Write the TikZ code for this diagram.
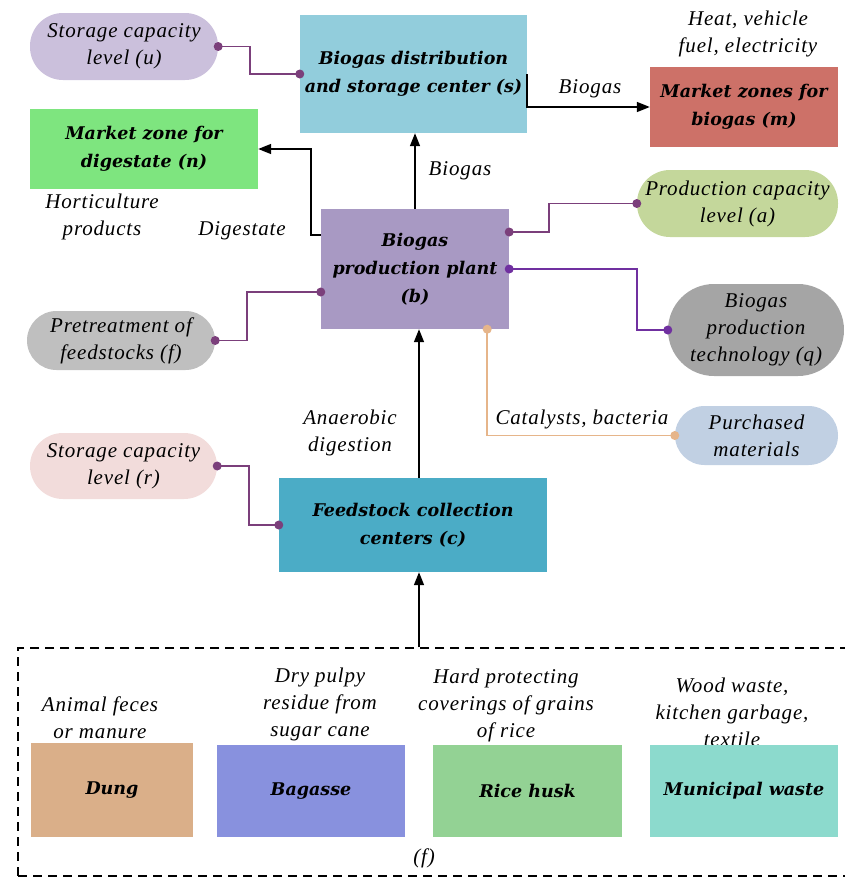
\documentclass[tikz,border=0pt]{standalone}
\usepackage{fontspec}
\setmainfont{Liberation Serif}[LetterSpace=4]
\newfontfamily\boldit{DejaVu Serif}[BoldItalicFont={DejaVu Serif Bold Italic}]
\usetikzlibrary{arrows.meta,calc}
\definecolor{cu}{RGB}{203,192,220}
\definecolor{cs}{RGB}{146,205,220}
\definecolor{cm}{RGB}{205,113,104}
\definecolor{cn}{RGB}{126,229,127}
\definecolor{cb}{RGB}{168,153,195}
\definecolor{ca}{RGB}{196,215,155}
\definecolor{cq}{RGB}{165,165,165}
\definecolor{cf}{RGB}{191,191,191}
\definecolor{cp}{RGB}{193,208,227}
\definecolor{cr}{RGB}{242,220,219}
\definecolor{cc}{RGB}{75,172,198}
\definecolor{cdung}{RGB}{218,175,137}
\definecolor{cbag}{RGB}{136,145,222}
\definecolor{crice}{RGB}{147,210,148}
\definecolor{cmun}{RGB}{140,218,205}
\definecolor{lp}{RGB}{123,63,123}
\definecolor{lq}{RGB}{112,48,160}
\definecolor{lt}{RGB}{230,181,138}
\tikzset{
  txt/.style={font=\fontsize{21}{27}\selectfont\itshape, align=center, inner sep=0pt},
  box/.style={draw=none, align=center, inner sep=0pt, font=\boldit\fontsize{17.5}{28}\selectfont\bfseries\itshape},
  pill/.style={draw=none, align=center, inner sep=0pt, rounded corners=33pt, font=\fontsize{21}{27}\selectfont\itshape},
  arr/.style={line width=1.5pt, -{Triangle[length=13pt,width=10pt]}},
  pl/.style={line width=1.8pt, draw=lp},
  ql/.style={line width=1.8pt, draw=lq},
  tl/.style={line width=1.8pt, draw=lt},
}
\begin{document}
\begin{tikzpicture}[x=1pt,y=-1pt]
\useasboundingbox (0,0) rectangle (844,878);
% top row
\node[pill, fill=cu, minimum width=188pt, minimum height=67pt] (u) at (124,46.5) {Storage capacity\\level (u)};
\node[box, fill=cs, minimum width=227pt, minimum height=118pt] (s) at (413.5,74) {Biogas distribution\\and storage center (s)};
\node[txt] (heat) at (748,34) {Heat, vehicle\\fuel, electricity};
\node[box, fill=cm, minimum width=188pt, minimum height=80pt] (m) at (744,107) {Market zones for\\biogas (m)};
\node[box, fill=cn, minimum width=228pt, minimum height=80pt] (n) at (144,149) {Market zone for\\digestate (n)};
\node[txt] (hort) at (102,217) {Horticulture\\products};
\node[txt] (dig) at (242,231) {Digestate};
\node[box, fill=cb, minimum width=188pt, minimum height=120pt] (b) at (415,269) {Biogas\\production plant\\(b)};
\node[txt] (bg1) at (460,171) {Biogas};
\node[txt] (bg2) at (590,89) {Biogas};
\node[pill, fill=ca, minimum width=201pt, minimum height=67pt] (a) at (737.5,203.5) {Production capacity\\level (a)};
\node[pill, fill=cq, minimum width=176pt, minimum height=92pt, rounded corners=46pt] (q) at (756,330) {Biogas\\production\\technology (q)};
\node[pill, fill=cf, minimum width=188pt, minimum height=59pt, rounded corners=29.5pt] (f) at (121,340.5) {Pretreatment of\\feedstocks (f)};
\node[pill, fill=cp, minimum width=163pt, minimum height=59pt, rounded corners=29.5pt] (p) at (756.5,435.5) {Purchased\\materials};
\node[txt] (cat) at (582,419) {Catalysts, bacteria};
\node[pill, fill=cr, minimum width=187pt, minimum height=66pt] (r) at (123.5,466) {Storage capacity\\level (r)};
\node[txt] (ana) at (350,433) {Anaerobic\\digestion};
\node[box, fill=cc, minimum width=268pt, minimum height=94pt] (c) at (413,525) {Feedstock collection\\centers (c)};
% source box
\node[draw, dashed, dash pattern=on 9pt off 6pt, line width=1.2pt, minimum width=834pt, minimum height=228pt, inner sep=0pt] (src) at (435,762) {};
\node[txt] (t1) at (100,718) {Animal feces\\or manure};
\node[txt] (t2) at (320,704) {Dry pulpy\\residue from\\sugar cane};
\node[txt] (t3) at (506,705) {Hard protecting\\coverings of grains\\of rice};
\node[txt] (t4) at (732,712) {Wood waste,\\kitchen garbage,\\textile};
\node[box, fill=cdung, minimum width=162pt, minimum height=94pt] (dung) at (112,790) {Dung};
\node[box, fill=cbag, minimum width=188pt, minimum height=92pt] (bag) at (311,791) {Bagasse};
\node[box, fill=crice, minimum width=189pt, minimum height=92pt] (rice) at (527.5,791) {Rice husk};
\node[box, fill=cmun, minimum width=188pt, minimum height=92pt] (mun) at (744,791) {Municipal waste};
\node[txt] (fl) at (424,858) {(f)};
% arrows
\draw[arr] (s.east) |- (m.west);
\draw[arr] (b.north) -- (b.north |- s.south);
\draw[arr] ([yshift=34pt]b.west) -- ++(-10,0) |- (n.east);
\draw[arr] ([xshift=6pt]c.north) -- ([xshift=6pt]c.north |- b.south);
\draw[arr] ([xshift=6pt]c.south |- src.north) -- ([xshift=6pt]c.south);
% property connectors
\draw[pl] (u.east) -- ++(32,0) |- (s.west);
\fill[lp] (u.east) circle (4.5pt) (s.west) circle (4.5pt);
\draw[pl] ([yshift=37pt]b.east) -- ++(40,0) |- (a.west);
\fill[lp] ([yshift=37pt]b.east) circle (4.5pt) (a.west) circle (4.5pt);
\draw[ql] (b.east) -- ++(128,0) |- (q.west);
\fill[lq] (b.east) circle (4.5pt) (q.west) circle (4.5pt);
\draw[pl] (f.east) -- ++(32,0) |- ([yshift=-23pt]b.west);
\fill[lp] (f.east) circle (4.5pt) ([yshift=-23pt]b.west) circle (4.5pt);
\draw[tl] ([xshift=-22pt]b.south east) |- (p.west);
\fill[lt] ([xshift=-22pt]b.south east) circle (4.5pt) (p.west) circle (4.5pt);
\draw[pl] (r.east) -- ++(32,0) |- (c.west);
\fill[lp] (r.east) circle (4.5pt) (c.west) circle (4.5pt);
\end{tikzpicture}
\end{document}
